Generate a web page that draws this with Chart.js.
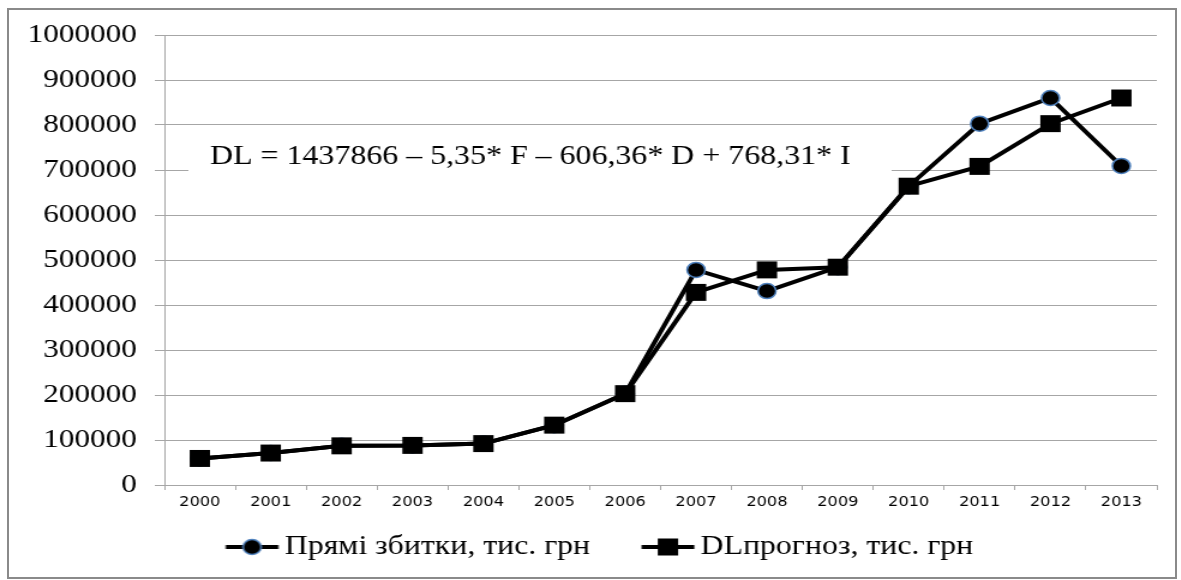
<!DOCTYPE html>
<html>
<head>
<meta charset="utf-8">
<script src="https://cdn.jsdelivr.net/npm/chart.js@4"></script>
<style>
  html, body { margin: 0; padding: 0; background: #fff; }
  body { width: 1181px; height: 580px; position: relative; overflow: hidden; }
  #frame { position: absolute; left: 7px; top: 8px; width: 1166px; height: 567px; border: 2px solid #8a8a8a; }
  /* the source picture is stretched horizontally, so is this one */
  #wrap { position: absolute; left: 0; top: 0; width: 984px; height: 580px; transform: scaleX(1.2); transform-origin: 0 0; }
</style>
</head>
<body>
<div id="frame"></div>
<div id="wrap"><canvas id="chart"></canvas></div>
<script>
// data
const YEARS = ['2000','2001','2002','2003','2004','2005','2006','2007','2008','2009','2010','2011','2012','2013'];
const DIRECT_LOSSES = [59000, 71000, 87000, 88000, 92000, 133000, 203000, 478000, 431000, 484000, 664000, 803000, 860000, 709000];
const DL_FORECAST   = [59000, 71000, 87000, 88000, 92000, 133000, 203000, 428000, 478000, 484000, 664000, 708000, 803000, 860000];
const LABEL_LOSSES = 'Прямі збитки, тис. грн';
const LABEL_FORECAST = 'DLпрогноз, тис. грн';
const EQUATION = 'DL = 1437866 – 5,35* F – 606,36* D + 768,31* I';

const SERIF = '"Liberation Serif", "Times New Roman", serif';
const BLUE = '#4f81bd';
const GRID = '#a6a6a6';

// legend swatch: line with marker; drawn in the right part of a wider
// transparent image so the text sits close to it
const SW_BOX = 71;
function swatch(kind){
  const c = document.createElement('canvas');
  c.width = 90; c.height = 20;
  const g = c.getContext('2d');
  const x0 = 44.5, x1 = 88.5, mid = (x0 + x1) / 2;
  g.strokeStyle = '#000'; g.lineWidth = 4;
  g.beginPath(); g.moveTo(x0, 10); g.lineTo(x1, 10); g.stroke();
  g.fillStyle = '#000';
  if (kind === 'circle'){
    g.beginPath(); g.arc(mid, 10, 7.5, 0, Math.PI*2); g.fill();
    g.strokeStyle = BLUE; g.lineWidth = 1.5; g.stroke();
  } else {
    g.fillRect(mid - 8.5, 1.5, 17, 17);
  }
  return c;
}

const equationBox = {
  id: 'equationBox',
  beforeDatasetsDraw(chart){
    const c = chart.ctx;
    c.save();
    c.fillStyle = '#fff';
    c.fillRect(157, 140, 586, 38);
    c.fillStyle = '#000';
    c.font = '26.6px ' + SERIF;
    c.textBaseline = 'middle';
    c.fillText(EQUATION, 175, 157.5);
    c.restore();
  }
};

const ctx = document.getElementById('chart').getContext('2d');
new Chart(ctx, {
  type: 'line',
  data: {
    labels: YEARS,
    datasets: [
      {
        label: LABEL_LOSSES,
        data: DIRECT_LOSSES,
        borderColor: '#000',
        borderWidth: 4,
        pointStyle: 'circle',
        pointRadius: 7.5,
        pointBackgroundColor: '#000',
        pointBorderColor: BLUE,
        pointBorderWidth: 1.5,
        tension: 0,
        order: 1
      },
      {
        label: LABEL_FORECAST,
        data: DL_FORECAST,
        borderColor: '#000',
        borderWidth: 4,
        pointStyle: 'rect',
        pointRadius: 12,
        pointBackgroundColor: '#000',
        pointBorderColor: '#000',
        pointBorderWidth: 0,
        tension: 0,
        order: 0
      }
    ]
  },
  options: {
    responsive: true,
    maintainAspectRatio: false,
    animation: false,
    layout: { padding: { top: 35, right: 20, left: 0, bottom: 9.8 } },
    plugins: {
      tooltip: { enabled: false },
      legend: {
        position: 'bottom',
        labels: {
          usePointStyle: true,
          pointStyleWidth: SW_BOX,
          padding: 7.9,
          color: '#000',
          font: { family: SERIF, size: 26.5 },
          generateLabels(chart){
            return chart.data.datasets.map((ds, i) => ({
              text: ds.label,
              pointStyle: swatch(i === 0 ? 'circle' : 'rect'),
              fillStyle: '#000',
              strokeStyle: '#000',
              lineWidth: 0,
              hidden: false,
              datasetIndex: i
            }));
          }
        }
      }
    },
    scales: {
      x: {
        offset: true,
        grid: { offset: true, drawOnChartArea: false, tickLength: 5, color: GRID },
        border: { color: GRID, width: 1 },
        ticks: { color: '#000', padding: 4, maxRotation: 0, autoSkip: false,
                 font: { family: '"DejaVu Sans", Verdana, sans-serif', size: 13.5 } },
        afterFit(scale){ scale.height = 40.8; }
      },
      y: {
        min: 0,
        max: 1000000,
        ticks: { stepSize: 100000, color: '#000', padding: 15, font: { family: SERIF, size: 26 },
                 callback: v => String(v) },
        grid: { color: GRID, tickLength: 8 },
        border: { color: GRID, width: 1 },
        afterFit(scale){ scale.width = 137; }
      }
    }
  },
  plugins: [equationBox]
});
</script>
</body>
</html>
